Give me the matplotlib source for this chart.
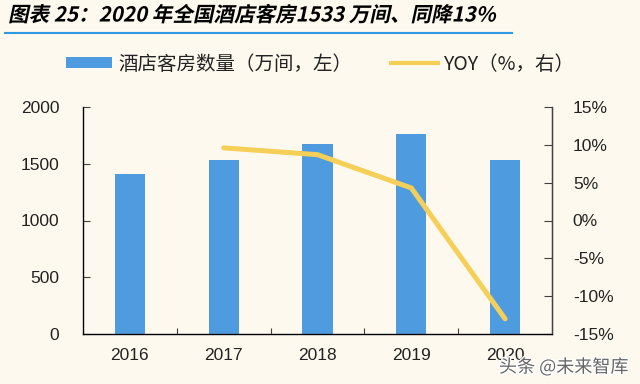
import matplotlib
matplotlib.use("Agg")
import matplotlib.pyplot as plt
import matplotlib.transforms as mtransforms
import matplotlib.patheffects as pe
from matplotlib.patheffects import AbstractPathEffect
from matplotlib.lines import Line2D
from matplotlib.patches import Patch

years = ["2016", "2017", "2018", "2019", "2020"]
rooms = [1410, 1533, 1677, 1762, 1533]
yoy_years = ["2017", "2018", "2019", "2020"]
yoy = [9.6, 8.7, 4.3, -13.0]
left_ticks = [0, 500, 1000, 1500, 2000]
right_ticks = [-15, -10, -5, 0, 5, 10, 15]

title = "图表 25：2020 年全国酒店客房1533 万间、同降13%"
bar_label = "酒店客房数量（万间，左）"
line_label = "YOY（%，右）"
watermark = "头条 @未来智库"

BG = "#FDF9EE"
BAR = "#4F9BE0"
LINE = "#F5CF58"
AX = "#404040"

plt.rcParams['font.family'] = ['Noto Sans CJK SC', 'DejaVu Sans']


class Oblique(AbstractPathEffect):
    def __init__(self, angle=12):
        super().__init__()
        self.angle = angle

    def draw_path(self, renderer, gc, tpath, affine, rgbFace=None):
        renderer.draw_path(gc, tpath,
                           mtransforms.Affine2D().skew_deg(self.angle, 0) + affine,
                           rgbFace)


fig = plt.figure(figsize=(6.4, 3.84), dpi=100, facecolor=BG)
ax = fig.add_axes([83/640, 1-334/384, (552-83)/640, (334-107)/384])
ax.set_facecolor(BG)

x = list(range(len(years)))
ax.bar(x, rooms, width=0.32, color=BAR, zorder=2)
ax.set_xlim(-0.5, len(years)-0.5)
ax.set_ylim(0, 2000)
ax.set_yticks(left_ticks)
ax.set_yticklabels([str(v) for v in left_ticks], family='Liberation Sans', fontsize=12.5,
                   color='#222222')
ax.set_xticks([i + 0.5 for i in range(len(years)-1)])
ax.set_xticklabels([])
ax.set_xticks(x, minor=True)
ax.set_xticklabels(years, minor=True, family='Liberation Sans', fontsize=12.5, color='#222222')
ax.tick_params(axis='x', which='major', direction='in', length=4, color=AX)
ax.tick_params(axis='x', which='minor', length=0, pad=10)
ax.tick_params(axis='y', direction='in', length=5, color=AX, pad=17)
ax.spines['top'].set_visible(False)
for s in ['left', 'bottom', 'right']:
    ax.spines[s].set_color(AX)
    ax.spines[s].set_linewidth(1.0)

ax2 = ax.twinx()
xi = [years.index(y) for y in yoy_years]
ax2.plot(xi, yoy, color=LINE, lw=3.6, solid_capstyle='round', zorder=3)
ax2.set_ylim(-15, 15)
ax2.set_yticks(right_ticks)
ax2.set_yticklabels([f"{v}%" for v in right_ticks], family='Liberation Sans', fontsize=12.5,
                    color='#222222')
ax2.tick_params(axis='y', direction='in', length=6, color=AX, pad=15)
ax2.spines['top'].set_visible(False)
ax2.spines['right'].set_color(AX)

handles = [Patch(facecolor=BAR, edgecolor='none'),
           Line2D([0], [0], color=LINE, lw=3)]
leg = fig.legend(handles, [bar_label, line_label], loc='center', bbox_to_anchor=(0.5, 1-64/384),
                 ncol=2, frameon=False, fontsize=14, handlelength=2.4, handleheight=0.45,
                 handletextpad=0.3, columnspacing=2.0)
for t in leg.get_texts():
    t.set_color('#222222')

fig.text(8/640, 1-15/384, title, fontsize=14.8, fontweight='bold', va='center', ha='left',
         path_effects=[Oblique(12)])
fig.add_artist(Line2D([5/640, 512/640], [1-33/384, 1-33/384], color='#2E9BE0', lw=1.5))

fig.text(628/640, 1-367/384, watermark, fontsize=13, color='#666666', ha='right', va='center',
         path_effects=[pe.withStroke(linewidth=2, foreground='white')])

fig.savefig("out.png", dpi=100, facecolor=BG)
